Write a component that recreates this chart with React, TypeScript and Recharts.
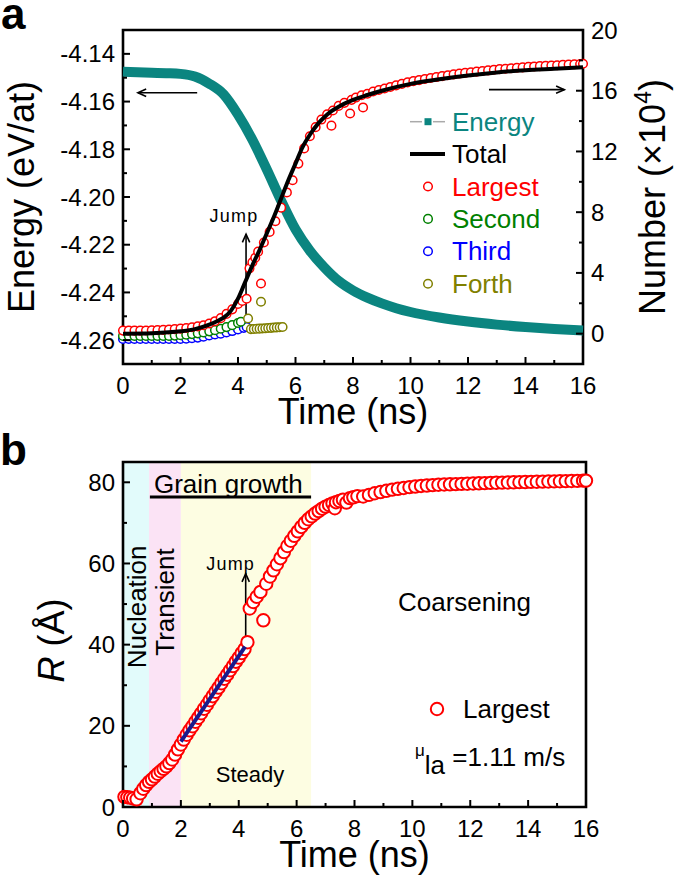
import {
  ComposedChart,
  Line,
  Scatter,
  XAxis,
  YAxis,
  ReferenceArea,
  ReferenceLine,
  ReferenceDot,
} from "recharts";

const FONT = "Arial, 'Liberation Sans', Helvetica, sans-serif";

const TEAL = "#0b8580";
const RED = "#ff0000";
const GREEN = "#008000";
const BLUE = "#0000ff";
const OLIVE = "#808000";
const NAVY = "#1a1a8c";

// ---------- panel a ----------
const energyTime = [0, 0.5, 1, 1.5, 2, 2.5, 3, 3.5, 4, 4.5, 5, 5.5, 6, 6.5, 7, 7.5, 8, 8.5, 9, 9.5, 10, 11, 12, 13, 14, 15, 16];
const energyValue = [
  -4.1475, -4.1477, -4.1479, -4.1481, -4.1484, -4.1495, -4.1525, -4.157, -4.1655, -4.176, -4.1884, -4.2015, -4.2135,
  -4.2225, -4.2295, -4.2352, -4.2392, -4.2422, -4.2446, -4.2466, -4.2482, -4.2505, -4.2522, -4.2535, -4.2545, -4.2553,
  -4.256,
];

const totalTime = [0, 1, 2, 2.5, 3, 3.25, 3.5, 3.75, 4, 4.25, 4.5, 4.75, 5, 5.25, 5.5, 5.75, 6, 6.25, 6.5, 6.75, 7, 7.25, 7.5, 8, 8.5, 9, 10, 11, 12, 13, 14, 15, 16];
const totalValue = [
  0, 0.03, 0.15, 0.3, 0.6, 0.8, 1.05, 1.5, 2.3, 3.4, 4.5, 5.5, 6.6, 7.7, 8.9, 10.1, 11.2, 12.3, 13.1, 13.75, 14.25,
  14.65, 14.95, 15.4, 15.72, 16.0, 16.45, 16.75, 17.0, 17.2, 17.35, 17.45, 17.55,
];

const largestATime = [
  0, 0.2, 0.4, 0.6, 0.8, 1, 1.2, 1.4, 1.6, 1.8, 2, 2.2, 2.4, 2.6, 2.8, 3, 3.2, 3.4, 3.6, 3.8, 4, 4.15, 4.3,
  4.4, 4.5, 4.6, 4.7, 4.8, 4.9, 5.1, 5.3, 5.5, 5.7, 5.9, 6.1, 6.3, 6.5, 6.7, 6.9, 7.1, 7.25, 7.3, 7.5, 7.7, 7.9, 7.95,
  8.1, 8.3, 8.35, 8.5, 8.7, 8.9, 9.1, 9.3, 9.5, 9.7, 9.9, 10.1, 10.3, 10.5, 10.7, 10.9, 11.1, 11.3, 11.5, 11.7, 11.9,
  12.1, 12.3, 12.5, 12.7, 12.9, 13.1, 13.3, 13.5, 13.7, 13.9, 14.1, 14.3, 14.5, 14.7, 14.9, 15.1, 15.3, 15.5, 15.7,
  15.9, 16,
];
const largestAValue = [
  0.2, 0.2, 0.2, 0.2, 0.21, 0.22, 0.23, 0.25, 0.27, 0.3, 0.33, 0.37, 0.42, 0.48, 0.55, 0.67, 0.82, 1.02, 1.3, 1.6,
  1.95, 2.15, 2.3,
  4.3, 4.7, 5.0, 5.4, 3.3, 6.0, 6.7, 7.4, 8.3, 9.3, 10.1, 11.2, 12.2, 13.0, 13.6, 14.1, 14.45, 13.7, 14.7, 15.0, 15.2,
  14.5, 15.4, 15.55, 15.7, 14.9, 15.8, 15.95, 16.05, 16.15, 16.25, 16.35, 16.45, 16.55, 16.63, 16.7, 16.77, 16.84,
  16.9, 16.96, 17.02, 17.08, 17.13, 17.18, 17.22, 17.26, 17.3, 17.34, 17.38, 17.42, 17.45, 17.48, 17.51, 17.54, 17.57,
  17.6, 17.62, 17.64, 17.66, 17.68, 17.7, 17.72, 17.74, 17.76, 17.78,
];

const secondTime = [0, 0.2, 0.4, 0.6, 0.8, 1, 1.2, 1.4, 1.6, 1.8, 2, 2.2, 2.4, 2.6, 2.8, 3, 3.2, 3.4, 3.6, 3.8, 4, 4.1];
const secondValue = [
  -0.15, -0.15, -0.15, -0.15, -0.15, -0.15, -0.15, -0.15, -0.15, -0.13, -0.1, -0.07, -0.03, 0.02, 0.08, 0.15, 0.23,
  0.32, 0.43, 0.56, 0.7, 0.78,
];

const thirdTime = [0, 0.2, 0.4, 0.6, 0.8, 1, 1.2, 1.4, 1.6, 1.8, 2, 2.2, 2.4, 2.6, 2.8, 3, 3.2, 3.4, 3.6, 3.8, 4, 4.2, 4.3];
const thirdValue = [
  -0.35, -0.35, -0.35, -0.35, -0.35, -0.35, -0.35, -0.35, -0.35, -0.35, -0.35, -0.33, -0.3, -0.26, -0.2, -0.12, -0.06,
  0.0, 0.08, 0.17, 0.27, 0.38, 0.44,
];

const forthTime = [4.35, 4.45, 4.55, 4.65, 4.75, 4.8, 4.85, 4.95, 5.05, 5.15, 5.25, 5.35, 5.45, 5.55];
const forthValue = [1.0, 0.3, 0.31, 0.32, 0.33, 2.1, 0.34, 0.35, 0.37, 0.38, 0.4, 0.41, 0.42, 0.44];

const timeTicks = [0, 1, 2, 3, 4, 5, 6, 7, 8, 9, 10, 11, 12, 13, 14, 15, 16];
const energyTicks = [-4.26, -4.25, -4.24, -4.23, -4.22, -4.21, -4.2, -4.19, -4.18, -4.17, -4.16, -4.15, -4.14];
const numberTicks = [0, 2, 4, 6, 8, 10, 12, 14, 16, 18, 20];

const legendA = [
  { name: "Energy", color: TEAL, kind: "square" },
  { name: "Total", color: "#000", kind: "line" },
  { name: "Largest", color: RED, kind: "circle" },
  { name: "Second", color: GREEN, kind: "circle" },
  { name: "Third", color: BLUE, kind: "circle" },
  { name: "Forth", color: OLIVE, kind: "circle" },
];

// ---------- panel b ----------
const largestBTime = [
  0.05, 0.15, 0.25, 0.35, 0.47, 0.6, 0.7, 0.8, 0.9, 1.0, 1.1, 1.2, 1.3, 1.4, 1.5, 1.6, 1.7, 1.8, 1.9, 2.0,
  2.1, 2.2, 2.3, 2.4, 2.5, 2.6, 2.7, 2.8, 2.9, 3.0, 3.1, 3.2, 3.3, 3.4, 3.5, 3.6, 3.7, 3.8, 3.9, 4.0, 4.1, 4.2, 4.3,
  4.38, 4.5, 4.62, 4.75, 4.85, 4.95, 5.08, 5.2, 5.32, 5.44, 5.56, 5.68, 5.8, 5.92, 6.04, 6.16, 6.28, 6.4, 6.52, 6.64,
  6.76, 6.88, 7.0, 7.12, 7.24, 7.32, 7.36, 7.48, 7.6, 7.72, 7.84, 7.96, 8.1, 8.3, 8.5, 8.7, 8.9, 9.1, 9.3, 9.5, 9.7,
  9.9, 10.1, 10.3, 10.5, 10.7, 10.9, 11.1, 11.3, 11.5, 11.7, 11.9, 12.1, 12.3, 12.5, 12.7, 12.9, 13.1, 13.3, 13.5,
  13.7, 13.9, 14.1, 14.3, 14.5, 14.7, 14.9, 15.1, 15.3, 15.5, 15.7, 15.9, 16.0,
];
const largestBValue = [
  2.5, 2.4, 2.3, 2.1, 1.9, 3.4, 4.5, 5.4, 6.2, 6.8, 7.5, 8.2, 8.8, 9.4, 10.0, 10.8, 11.7, 12.9, 14.2, 15.4,
  16.6, 17.8, 18.9, 19.9, 21.0, 22.0, 23.1, 24.2, 25.2, 26.3, 27.3, 28.4, 29.4, 30.5, 31.6, 32.6, 33.7, 34.7, 35.8,
  36.8, 37.9, 38.9, 40.6,
  48.9, 50.5, 51.8, 53.0, 46.0, 55.0, 56.8, 58.3, 59.8, 61.3, 62.8, 64.3, 65.6, 66.8, 67.9, 69.0, 70.0, 70.9, 71.6,
  72.3, 72.9, 73.5, 74.0, 74.4, 74.8, 73.6, 75.1, 75.4, 75.7, 75.0, 76.1, 76.3, 76.6, 76.5, 76.9, 77.3, 77.6, 77.9,
  78.2, 78.4, 78.6, 78.8, 78.95, 79.1, 79.2, 79.3, 79.4, 79.45, 79.5, 79.55, 79.6, 79.65, 79.7, 79.75, 79.8, 79.85,
  79.9, 79.93, 79.96, 80.0, 80.03, 80.06, 80.1, 80.13, 80.16, 80.2, 80.23, 80.26, 80.3, 80.33, 80.36, 80.4, 80.42,
];

const fitTime = [2.0, 4.22];
const fitValue = [16.1, 39.5];

const radiusTicks = [0, 10, 20, 30, 40, 50, 60, 70, 80];

const stages = [
  { from: 0, to: 0.9, color: "#e2fbfb" },
  { from: 0.9, to: 2.0, color: "#fbe3f5" },
  { from: 2.0, to: 6.5, color: "#fdfde2" },
];

// ---------- helpers ----------
const zip = (t: number[], v: number[]) => t.map((x, i) => ({ t: x, v: v[i] }));

const energyData = zip(energyTime, energyValue);
const totalData = zip(totalTime, totalValue);
const largestAData = zip(largestATime, largestAValue);
const secondData = zip(secondTime, secondValue);
const thirdData = zip(thirdTime, thirdValue);
const forthData = zip(forthTime, forthValue);
const largestBData = zip(largestBTime, largestBValue);
const fitData = zip(fitTime, fitValue);

const ring = (color: string, r: number, sw: number) => (p: any) => (
  <circle cx={p.cx} cy={p.cy} r={r} fill="#fff" stroke={color} strokeWidth={sw} />
);
const noPoint = () => <g />;

type Side = "bottom" | "left" | "right";

const axisTick =
  (side: Side, isMajor: (v: number) => boolean, fmt: (v: number) => string) =>
  (props: any) => {
    const { x, y, payload } = props;
    const v = Number(payload.value);
    const major = isMajor(v);
    const len = major ? 7 : 4;
    const common = { fontSize: 24, fontFamily: FONT, fill: "#000" };
    if (side === "bottom") {
      return (
        <g>
          <line x1={x} y1={y} x2={x} y2={y - len} stroke="#000" strokeWidth={2} />
          {major && (
            <text x={x} y={y + 30} textAnchor="middle" {...common}>
              {fmt(v)}
            </text>
          )}
        </g>
      );
    }
    const dir = side === "left" ? 1 : -1;
    return (
      <g>
        <line x1={x} y1={y} x2={x + dir * len} y2={y} stroke="#000" strokeWidth={2} />
        {major && (
          <text
            x={x - dir * 8}
            y={y}
            textAnchor={side === "left" ? "end" : "start"}
            dominantBaseline="central"
            {...common}
          >
            {fmt(v)}
          </text>
        )}
      </g>
    );
  };

const arrow = (p: any) => {
  const { x1, y1, x2, y2 } = p;
  const ang = Math.atan2(y2 - y1, x2 - x1);
  const h = 9;
  const a1 = ang + Math.PI - 0.42;
  const a2 = ang + Math.PI + 0.42;
  return (
    <g>
      <line x1={x1} y1={y1} x2={x2} y2={y2} stroke="#000" strokeWidth={1.6} />
      <polyline
        points={`${x2 + h * Math.cos(a1)},${y2 + h * Math.sin(a1)} ${x2},${y2} ${x2 + h * Math.cos(a2)},${y2 + h * Math.sin(a2)}`}
        fill="none"
        stroke="#000"
        strokeWidth={1.6}
      />
    </g>
  );
};

const textAt =
  (label: string, size: number, opts: { rotate?: boolean; spacing?: number } = {}) =>
  (p: any) => (
    <text
      x={p.cx}
      y={p.cy}
      textAnchor="middle"
      dominantBaseline="central"
      fontSize={size}
      fontFamily={FONT}
      fill="#000"
      letterSpacing={opts.spacing}
      transform={opts.rotate ? `rotate(-90 ${p.cx} ${p.cy})` : undefined}
    >
      {label}
    </text>
  );

const TITLE = 36;

const timeTitle = (dy: number) => (p: any) => {
  const vb = p.viewBox;
  return (
    <text x={vb.x + vb.width / 2} y={vb.y + dy} textAnchor="middle" fontSize={TITLE} fontFamily={FONT} fill="#000">
      Time (ns)
    </text>
  );
};

const energyTitle = (p: any) => {
  const vb = p.viewBox;
  const cy = vb.y + vb.height / 2;
  return (
    <text x={34} y={cy} transform={`rotate(-90 34 ${cy})`} textAnchor="middle" fontSize={TITLE} fontFamily={FONT} fill="#000">
      Energy (eV/at)
    </text>
  );
};

const numberTitle = (p: any) => {
  const vb = p.viewBox;
  const cx = vb.x + 82;
  const cy = vb.y + vb.height / 2;
  return (
    <text x={cx} y={cy} transform={`rotate(-90 ${cx} ${cy})`} textAnchor="middle" fontSize={TITLE} fontFamily={FONT} fill="#000">
      Number (×10
      <tspan fontSize={23} dy={-14}>
        4
      </tspan>
      <tspan dy={14}>)</tspan>
    </text>
  );
};

const radiusTitle = (p: any) => {
  const vb = p.viewBox;
  const cy = vb.y + vb.height / 2 + 6;
  return (
    <text x={64} y={cy} transform={`rotate(-90 64 ${cy})`} textAnchor="middle" fontSize={TITLE} fontFamily={FONT} fill="#000">
      <tspan fontStyle="italic">R</tspan> (Å)
    </text>
  );
};

function PanelA() {
  return (
    <ComposedChart width={675} height={440} margin={{ top: 30, right: 0, bottom: 36, left: 0 }}>
      <XAxis
        type="number"
        dataKey="t"
        domain={[0, 16]}
        ticks={timeTicks}
        interval={0}
        height={40}
        axisLine={false}
        tickLine={false}
        tickSize={0}
        tickMargin={0}
        tick={axisTick("bottom", (v) => v % 2 === 0, (v) => String(v))}
        label={timeTitle(60)}
      />
      <YAxis
        yAxisId="left"
        type="number"
        dataKey="v"
        domain={[-4.27, -4.13]}
        ticks={energyTicks}
        interval={0}
        width={123}
        axisLine={false}
        tickLine={false}
        tickSize={0}
        tickMargin={0}
        tick={axisTick("left", (v) => Math.round(Math.abs(v) * 100) % 2 === 0, (v) => v.toFixed(2))}
        label={energyTitle}
      />
      <YAxis
        yAxisId="right"
        orientation="right"
        type="number"
        dataKey="v"
        domain={[-2, 20]}
        ticks={numberTicks}
        interval={0}
        width={92}
        axisLine={false}
        tickLine={false}
        tickSize={0}
        tickMargin={0}
        tick={axisTick("right", (v) => v % 4 === 0, (v) => String(v))}
        label={numberTitle}
      />

      <Line
        yAxisId="left"
        data={energyData}
        dataKey="v"
        type="monotone"
        stroke={TEAL}
        strokeWidth={10}
        dot={false}
        isAnimationActive={false}
      />
      <Scatter yAxisId="right" data={thirdData} dataKey="v" shape={ring(BLUE, 4.3, 1.5)} isAnimationActive={false} />
      <Scatter yAxisId="right" data={secondData} dataKey="v" shape={ring(GREEN, 4.3, 1.5)} isAnimationActive={false} />
      <Scatter yAxisId="right" data={largestAData} dataKey="v" shape={ring(RED, 4.3, 1.5)} isAnimationActive={false} />
      <Scatter yAxisId="right" data={forthData} dataKey="v" shape={ring(OLIVE, 4.3, 1.5)} isAnimationActive={false} />
      <Scatter
        yAxisId="right"
        data={totalData}
        dataKey="v"
        line={{ stroke: "#000", strokeWidth: 4 }}
        lineJointType="monotoneX"
        shape={noPoint}
        isAnimationActive={false}
      />

      <ReferenceLine
        yAxisId="left"
        segment={[
          { x: 2.58, y: -4.1563 },
          { x: 0.52, y: -4.1563 },
        ]}
        shape={arrow}
      />
      <ReferenceLine
        yAxisId="right"
        segment={[
          { x: 12.73, y: 16.07 },
          { x: 15.35, y: 16.07 },
        ]}
        shape={arrow}
      />
      <ReferenceLine
        yAxisId="right"
        segment={[
          { x: 4.28, y: 1.0 },
          { x: 4.28, y: 6.55 },
        ]}
        shape={arrow}
      />
      <ReferenceDot yAxisId="right" x={3.86} y={7.76} r={0} shape={textAt("Jump", 18, { spacing: 1.2 })} />

      <ReferenceArea
        yAxisId="right"
        x1={0}
        x2={16}
        y1={-2}
        y2={20}
        fill="none"
        stroke="#000"
        strokeWidth={2.6}
      />
    </ComposedChart>
  );
}

function PanelB() {
  return (
    <ComposedChart width={675} height={442} margin={{ top: 22, right: 89, bottom: 35, left: 0 }}>
      <XAxis
        type="number"
        dataKey="t"
        domain={[0, 16]}
        ticks={timeTicks}
        interval={0}
        height={40}
        axisLine={false}
        tickLine={false}
        tickSize={0}
        tickMargin={0}
        tick={axisTick("bottom", (v) => v % 2 === 0, (v) => String(v))}
        label={timeTitle(60)}
      />
      <YAxis
        type="number"
        dataKey="v"
        domain={[0, 85]}
        ticks={radiusTicks}
        interval={0}
        width={123}
        axisLine={false}
        tickLine={false}
        tickSize={0}
        tickMargin={0}
        tick={axisTick("left", (v) => v % 20 === 0, (v) => String(v))}
        label={radiusTitle}
      />

      {stages.map((s) => (
        <ReferenceArea key={s.from} x1={s.from} x2={s.to} y1={0} y2={85} fill={s.color} fillOpacity={1} stroke="none" />
      ))}

      <ReferenceLine
        segment={[
          { x: 0.93, y: 76.4 },
          { x: 6.5, y: 76.4 },
        ]}
        stroke="#000"
        strokeWidth={3}
      />
      <ReferenceDot x={3.64} y={79.7} r={0} shape={textAt("Grain growth", 26)} />
      <ReferenceDot x={0.49} y={49.3} r={0} shape={textAt("Nucleation", 26, { rotate: true })} />
      <ReferenceDot x={1.44} y={50.5} r={0} shape={textAt("Transient", 26, { rotate: true })} />
      <ReferenceDot x={11.8} y={50.5} r={0} shape={textAt("Coarsening", 26)} />
      <ReferenceDot x={4.39} y={7.9} r={0} shape={textAt("Steady", 22)} />

      <Scatter data={largestBData} dataKey="v" shape={ring(RED, 6.2, 2)} isAnimationActive={false} />
      <Scatter
        data={fitData}
        dataKey="v"
        line={{ stroke: NAVY, strokeWidth: 4 }}
        shape={noPoint}
        isAnimationActive={false}
      />

      <ReferenceLine
        segment={[
          { x: 4.24, y: 41 },
          { x: 4.24, y: 57.5 },
        ]}
        shape={arrow}
      />
      <ReferenceDot x={3.72} y={59.9} r={0} shape={textAt("Jump", 18, { spacing: 1.2 })} />

      <ReferenceArea x1={0} x2={16} y1={0} y2={85} fill="none" stroke="#000" strokeWidth={2.6} />
    </ComposedChart>
  );
}

function Overlay() {
  return (
    <svg
      width={675}
      height={882}
      style={{ position: "absolute", left: 0, top: 0, pointerEvents: "none" }}
      fontFamily={FONT}
    >
      <text x={1} y={29} fontSize={44} fontWeight="bold" fill="#000">
        a
      </text>
      <text x={0} y={465} fontSize={44} fontWeight="bold" fill="#000">
        b
      </text>

      {legendA.map((item, i) => {
        const cy = 121.7 + i * 32.4;
        let icon;
        if (item.kind === "square") {
          icon = (
            <g>
              <line x1={410} y1={cy} x2={422} y2={cy} stroke="#aaa" strokeWidth={1.5} />
              <line x1={433} y1={cy} x2={445} y2={cy} stroke="#aaa" strokeWidth={1.5} />
              <rect x={424.5} y={cy - 3.5} width={7} height={7} fill={item.color} />
            </g>
          );
        } else if (item.kind === "line") {
          icon = <line x1={410} y1={cy} x2={445} y2={cy} stroke={item.color} strokeWidth={4} />;
        } else {
          icon = <circle cx={428} cy={cy} r={4.3} fill="#fff" stroke={item.color} strokeWidth={1.5} />;
        }
        return (
          <g key={item.name}>
            {icon}
            <text x={452} y={cy} dominantBaseline="central" fontSize={26} fill={item.color}>
              {item.name}
            </text>
          </g>
        );
      })}

      <circle cx={437} cy={709} r={6.2} fill="#fff" stroke={RED} strokeWidth={2} />
      <text x={463} y={709} dominantBaseline="central" fontSize={26} fill="#000">
        Largest
      </text>
      <text x={415} y={766} fontSize={26} fill="#000">
        <tspan fontSize={17} dy={-10}>
          μ
        </tspan>
        <tspan fontSize={26} dy={18}>
          la
        </tspan>
        <tspan dy={-8}> =1.11 m/s</tspan>
      </text>
    </svg>
  );
}

export default function App() {
  return (
    <div style={{ position: "absolute", left: 0, top: 0, width: 675, height: 882, background: "#fff" }}>
      <div style={{ position: "absolute", left: 0, top: 0 }}>
        <PanelA />
      </div>
      <div style={{ position: "absolute", left: 0, top: 440 }}>
        <PanelB />
      </div>
      <Overlay />
    </div>
  );
}
